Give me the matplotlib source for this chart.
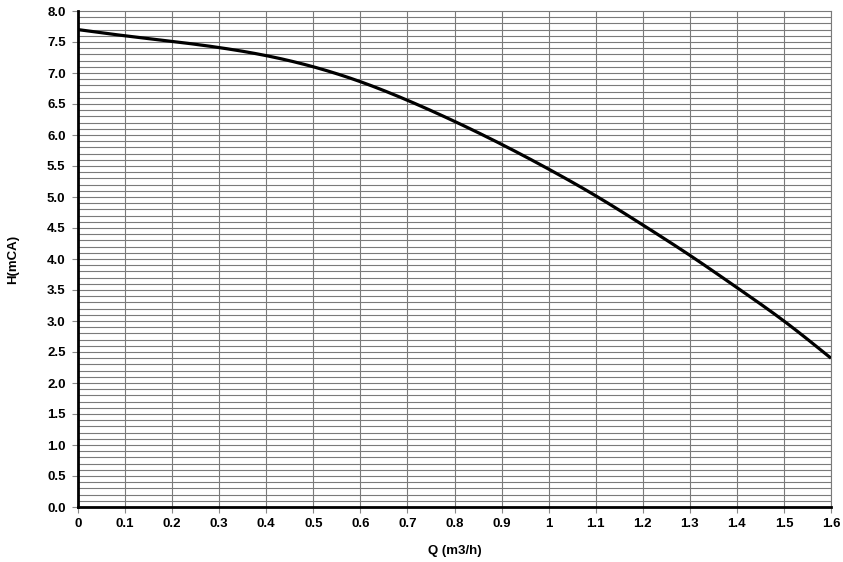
import matplotlib
matplotlib.use("Agg")
import matplotlib.pyplot as plt
import numpy as np

plt.rcParams['font.family'] = ['Liberation Sans', 'DejaVu Sans']

q = [0.0, 0.1, 0.2, 0.3, 0.4, 0.5, 0.6, 0.7, 0.8, 0.9, 1.0, 1.1, 1.2, 1.3, 1.4, 1.5, 1.6]
h = [7.70, 7.60, 7.51, 7.41, 7.28, 7.10, 6.86, 6.56, 6.22, 5.85, 5.45, 5.02, 4.55, 4.06, 3.54, 3.00, 2.40]

x_ticks = [0.0, 0.1, 0.2, 0.3, 0.4, 0.5, 0.6, 0.7, 0.8, 0.9, 1.0, 1.1, 1.2, 1.3, 1.4, 1.5, 1.6]
x_labels = ["0", "0.1", "0.2", "0.3", "0.4", "0.5", "0.6", "0.7", "0.8", "0.9", "1",
            "1.1", "1.2", "1.3", "1.4", "1.5", "1.6"]
y_ticks = [0.0, 0.5, 1.0, 1.5, 2.0, 2.5, 3.0, 3.5, 4.0, 4.5, 5.0, 5.5, 6.0, 6.5, 7.0, 7.5, 8.0]
y_labels = ["%.1f" % v for v in y_ticks]

# smooth curve through read points (natural cubic spline via numpy)
def spline(xs, ys, xn):
    xs = np.asarray(xs); ys = np.asarray(ys)
    n = len(xs)
    hh = np.diff(xs)
    A = np.zeros((n, n)); b = np.zeros(n)
    A[0, 0] = 1; A[-1, -1] = 1
    for i in range(1, n - 1):
        A[i, i - 1] = hh[i - 1]
        A[i, i] = 2 * (hh[i - 1] + hh[i])
        A[i, i + 1] = hh[i]
        b[i] = 3 * ((ys[i + 1] - ys[i]) / hh[i] - (ys[i] - ys[i - 1]) / hh[i - 1])
    c = np.linalg.solve(A, b)
    out = np.empty_like(xn)
    for k, xv in enumerate(xn):
        i = min(max(np.searchsorted(xs, xv) - 1, 0), n - 2)
        dx = xv - xs[i]
        bi = (ys[i + 1] - ys[i]) / hh[i] - hh[i] * (2 * c[i] + c[i + 1]) / 3
        di = (c[i + 1] - c[i]) / (3 * hh[i])
        out[k] = ys[i] + bi * dx + c[i] * dx ** 2 + di * dx ** 3
    return out

xs = np.linspace(q[0], q[-1], 400)
ys = spline(q, h, xs)

fig = plt.figure(figsize=(8.43, 5.62), dpi=100)
ax = fig.add_axes([78 / 843, 55 / 562, (831 - 78) / 843, (507 - 11) / 562])

ax.set_xlim(0, 1.6)
ax.set_ylim(0, 8.0)

# grid every 0.1 on both axes
for v in np.arange(1, 80):
    ax.axhline(v / 10, color='#7a7a7a', lw=0.8, zorder=1)
for v in np.arange(1, 17):
    ax.axvline(v / 10, color='#7a7a7a', lw=0.8, zorder=1)

ax.plot(xs, ys, color='black', lw=2.3, zorder=3, solid_capstyle='butt')

ax.set_xticks(x_ticks)
ax.set_xticklabels(x_labels)
ax.set_yticks(y_ticks)
ax.set_yticklabels(y_labels)
ax.tick_params(axis='both', direction='out', length=4, width=0.8, color='#8a8a8a',
               labelsize=9.5)
for lab in ax.get_xticklabels() + ax.get_yticklabels():
    lab.set_fontweight('bold')
ax.tick_params(axis='x', pad=4)
ax.tick_params(axis='y', pad=5)

for s in ['top', 'right']:
    ax.spines[s].set_color('#7a7a7a')
    ax.spines[s].set_linewidth(0.8)
for s in ['left', 'bottom']:
    ax.spines[s].set_color('black')
    ax.spines[s].set_linewidth(2.0)
    ax.spines[s].set_zorder(4)

ax.set_xlabel("Q (m3/h)", fontsize=9.5, fontweight='bold', labelpad=11)
ax.set_ylabel("H(mCA)", fontsize=9.5, fontweight='bold', labelpad=20)

fig.savefig("out.png", dpi=100, facecolor='white')
